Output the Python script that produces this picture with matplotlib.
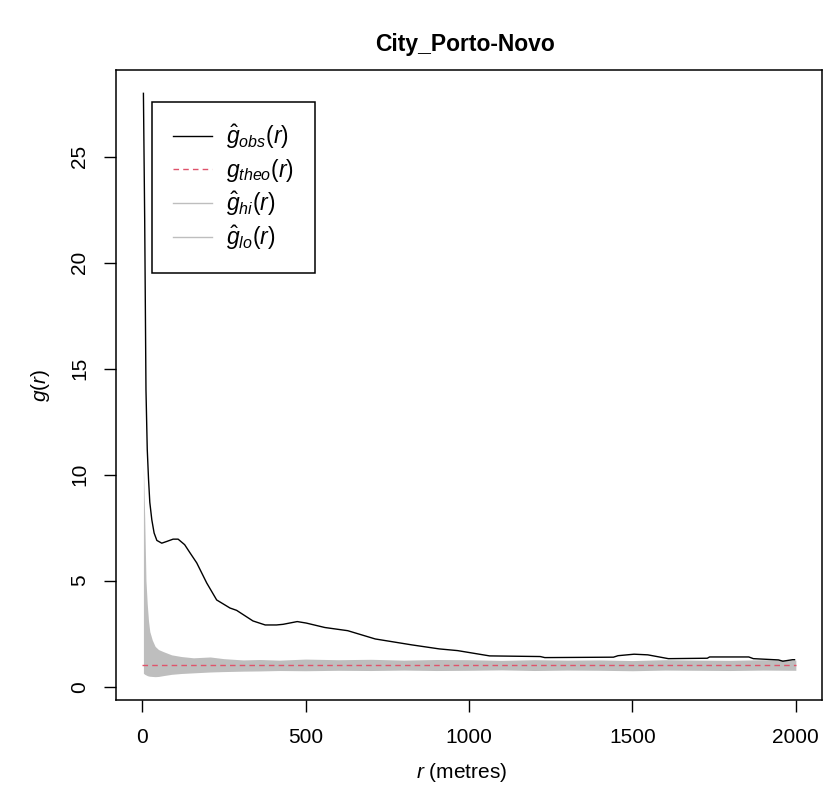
import matplotlib
matplotlib.use("Agg")
import matplotlib.pyplot as plt
import numpy as np
from matplotlib.lines import Line2D

plt.rcParams['font.family'] = ['Liberation Sans', 'DejaVu Sans']
plt.rcParams['mathtext.fontset'] = 'custom'
plt.rcParams['mathtext.rm'] = 'Liberation Sans'
plt.rcParams['mathtext.it'] = 'Liberation Sans:italic'
plt.rcParams['mathtext.bf'] = 'Liberation Sans:bold'

title = "City_Porto-Novo"

# observed pair correlation function
r_obs = [3.9, 7.8, 11.7, 15.6, 19.5, 23.4, 29.6, 36.6, 45, 60, 75, 94.7, 110,
         130, 146.6, 167, 197.6, 228, 268.7, 289, 339, 376.5, 411, 431, 474.5,
         502, 559, 629, 713, 825, 909, 965, 1063, 1218, 1232, 1442, 1456, 1505,
         1547, 1610, 1729, 1736, 1856, 1870, 1947, 1960, 1990, 1996]
g_obs = [28.0, 22.0, 14.0, 11.2, 9.8, 8.7, 7.87, 7.25, 6.9, 6.77, 6.85, 6.96, 6.96,
         6.7, 6.31, 5.84, 4.89, 4.09, 3.71, 3.6, 3.1, 2.91, 2.91, 2.94, 3.07,
         3.0, 2.79, 2.64, 2.25, 1.97, 1.78, 1.70, 1.45, 1.42, 1.37, 1.39, 1.46, 1.53,
         1.50, 1.32, 1.34, 1.40, 1.40, 1.32, 1.26, 1.20, 1.27, 1.27]

# theoretical (CSR) value
r_theo = [0, 2000]
g_theo = [1.0, 1.0]

# simulation envelope
r_env = [3.9, 7.8, 11.7, 15.6, 19.5, 23.4, 31, 39.7, 50, 65, 90, 120, 157, 208,
         250, 309, 360, 420, 500, 600, 700, 800, 900, 1000, 1100, 1200, 1300,
         1400, 1500, 1600, 1700, 1800, 1900, 2000]
g_hi = [10.4, 8.0, 5.0, 3.9, 3.1, 2.6, 2.2, 1.9, 1.75, 1.65, 1.5, 1.42, 1.36, 1.40,
        1.32, 1.26, 1.28, 1.25, 1.30, 1.27, 1.29, 1.25, 1.28, 1.27, 1.24, 1.27, 1.25,
        1.26, 1.23, 1.27, 1.25, 1.24, 1.27, 1.25]
g_lo = [0.63, 0.58, 0.55, 0.52, 0.50, 0.49, 0.48, 0.47, 0.48, 0.52, 0.58, 0.62, 0.65, 0.69,
        0.71, 0.73, 0.74, 0.76, 0.75, 0.77, 0.76, 0.78, 0.76, 0.77, 0.79, 0.76, 0.78,
        0.77, 0.75, 0.78, 0.77, 0.76, 0.78, 0.77]

x_ticks = [0, 500, 1000, 1500, 2000]
y_ticks = [0, 5, 10, 15, 20, 25]

W, H = 823, 800
fig = plt.figure(figsize=(W / 100, H / 100), dpi=100)
ax = fig.add_axes([116 / W, 1 - 700 / H, 706 / W, 630 / H])

grey = '#BEBEBE'
theo_col = '#DF536B'

ax.fill_between(r_env, g_lo, g_hi, color=grey, lw=0)
ax.plot(r_theo, g_theo, color=theo_col, lw=1.0, ls=(0, (4, 3)))
ax.plot(r_obs, g_obs, color='black', lw=1.0)

# R-style 4% padding on both axes
ymin = min(g_lo + g_obs)
ymax = max(g_hi + g_obs)
ypad = 0.04 * (ymax - ymin)
ax.set_ylim(ymin - ypad, ymax + ypad)
ax.set_xlim(-80, 2080)

ax.set_xticks(x_ticks)
ax.set_xticklabels([str(t) for t in x_ticks])
ax.set_yticks(y_ticks)
ax.set_yticklabels([str(t) for t in y_ticks], rotation=90, va='center')
ax.tick_params(direction='out', length=8.5, width=1, labelsize=15, color='black')
ax.tick_params(axis='x', pad=12)
ax.tick_params(axis='y', pad=11)
for s in ax.spines.values():
    s.set_linewidth(1.1)
    s.set_color('black')

fig.text(465 / W, 1 - 45 / H, title, ha='center', va='center',
         fontweight='bold', fontsize=16.5)
fig.text(462 / W, 1 - 773 / H, r'$r$ (metres)', ha='center', va='center', fontsize=15)
fig.text(40 / W, 1 - 385 / H, r'$g(r)$', ha='center', va='center', rotation=90, fontsize=15)

handles = [
    Line2D([], [], color='black', lw=1.0),
    Line2D([], [], color=theo_col, lw=1.0, ls=(0, (4, 3))),
    Line2D([], [], color=grey, lw=1.0),
    Line2D([], [], color=grey, lw=1.0),
]
labels = [r'$\hat{g}_{obs}(r)$', r'$g_{theo}(r)$', r'$\hat{g}_{hi}(r)$', r'$\hat{g}_{lo}(r)$']
leg = ax.legend(handles, labels, loc='upper left',
                bbox_to_anchor=((152 - 116) / 706, (700 - 102) / 630),
                fontsize=16.5, frameon=True, fancybox=False, framealpha=1,
                edgecolor='black', handlelength=1.7, handletextpad=0.65,
                labelspacing=0.25, borderpad=0.9, borderaxespad=0)
leg.get_frame().set_linewidth(1.1)

fig.savefig('out.png', dpi=100)
